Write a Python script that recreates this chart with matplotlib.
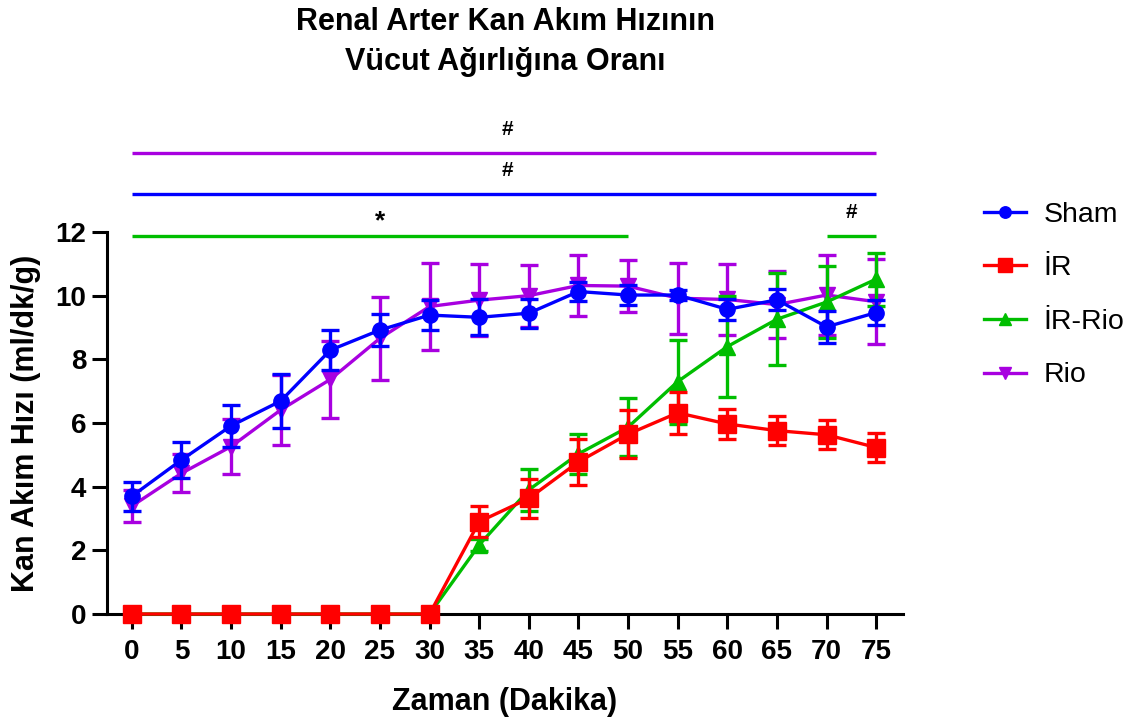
import matplotlib
matplotlib.use("Agg")
import matplotlib.pyplot as plt
from matplotlib.lines import Line2D

plt.rcParams['font.family'] = ['Liberation Sans', 'DejaVu Sans']

# Time points (minutes)
minutes = [0, 5, 10, 15, 20, 25, 30, 35, 40, 45, 50, 55, 60, 65, 70, 75]

# Mean renal artery flow per body weight (ml/dk/g) and SEM
sham_mean = [3.70, 4.84, 5.91, 6.69, 8.29, 8.92, 9.39, 9.32, 9.45, 10.13, 10.02, 10.02, 9.57, 9.87, 9.02, 9.47]
sham_err = [0.46, 0.57, 0.65, 0.84, 0.63, 0.50, 0.47, 0.56, 0.45, 0.30, 0.30, 0.15, 0.33, 0.33, 0.50, 0.38]

ir_mean = [0, 0, 0, 0, 0, 0, 0, 2.90, 3.63, 4.78, 5.65, 6.32, 5.97, 5.76, 5.63, 5.23]
ir_err = [0, 0, 0, 0, 0, 0, 0, 0.48, 0.60, 0.72, 0.76, 0.66, 0.46, 0.46, 0.45, 0.45]

irrio_mean = [0, 0, 0, 0, 0, 0, 0, 2.17, 3.90, 5.03, 5.87, 7.30, 8.40, 9.26, 9.80, 10.52]
irrio_err = [0, 0, 0, 0, 0, 0, 0, 0.20, 0.66, 0.63, 0.92, 1.32, 1.58, 1.45, 1.12, 0.83]

rio_mean = [3.39, 4.42, 5.26, 6.41, 7.37, 8.66, 9.66, 9.86, 10.00, 10.32, 10.30, 9.92, 9.88, 9.72, 10.02, 9.81]
rio_err = [0.50, 0.60, 0.87, 1.10, 1.20, 1.30, 1.38, 1.12, 0.97, 0.97, 0.82, 1.12, 1.13, 1.05, 1.25, 1.33]

x_ticks = [0, 5, 10, 15, 20, 25, 30, 35, 40, 45, 50, 55, 60, 65, 70, 75]
y_ticks = [0, 2, 4, 6, 8, 10, 12]

BLUE = '#0000FF'
RED = '#FF0000'
GREEN = '#00BE00'
PURPLE = '#A800E0'

fig = plt.figure(figsize=(11.47, 7.22), dpi=100)
ax = fig.add_axes([107 / 1147, 1 - 614 / 722, (903 - 107) / 1147, (614 - 232) / 722])

series = [
    # label, mean, err, color, marker, size, zorder
    ('Rio', rio_mean, rio_err, PURPLE, 'v', 12, 3),
    ('İR-Rio', irrio_mean, irrio_err, GREEN, '^', 12, 4),
    ('İR', ir_mean, ir_err, RED, 's', 13, 5),
    ('Sham', sham_mean, sham_err, BLUE, 'o', 11, 6),
]

handles = {}
for label, m, e, c, mk, ms, z in series:
    ax.errorbar(minutes, m, yerr=e, color=c, ecolor=c, marker=mk, markersize=ms,
                linewidth=2.4, elinewidth=2.4, capsize=6.5, capthick=2.4,
                markeredgecolor=c, markerfacecolor=c, zorder=z, clip_on=False)
    handles[label] = Line2D([0], [0], color=c, marker=mk, markersize=ms * 0.75,
                            linewidth=2.4, markerfacecolor=c, markeredgecolor=c)

ax.set_xlim(-2.5, 77.7)
ax.set_ylim(0, 12)
ax.set_xticks(x_ticks)
ax.set_yticks(y_ticks)
ax.tick_params(axis='both', direction='out', length=11, width=2.2,
               labelsize=20)
ax.tick_params(axis='x', pad=7)
ax.tick_params(axis='y', pad=4)
for lbl in ax.get_xticklabels() + ax.get_yticklabels():
    lbl.set_fontweight('bold')

for side in ('top', 'right'):
    ax.spines[side].set_visible(False)
for side in ('left', 'bottom'):
    ax.spines[side].set_linewidth(2.2)

ax.set_xlabel('Zaman (Dakika)', fontsize=22, fontweight='bold', labelpad=16)
ax.set_ylabel('Kan Akım Hızı (ml/dk/g)', fontsize=22, fontweight='bold', labelpad=10)

fig.text(505 / 1147, 1 - 42 / 722, 'Renal Arter Kan Akım Hızının\nVücut Ağırlığına Oranı',
         ha='center', va='center', fontsize=22, fontweight='bold', linespacing=1.4)

# Significance bars above the plot area
sig_bars = [
    # (x start, x end, level, marker text, text x, colour)
    (0, 75, 14.48, '#', 37.8, PURPLE),
    (0, 75, 13.19, '#', 37.8, BLUE),
    (0, 50, 11.88, '*', 25.0, GREEN),
    (70, 75, 11.88, '#', 72.5, GREEN),
]
for x0, x1, lvl, txt, tx, c in sig_bars:
    ax.plot([x0, x1], [lvl, lvl], color=c, linewidth=2.4, clip_on=False,
            solid_capstyle='butt', zorder=2)
    if txt == '*':
        ax.text(tx, lvl + 0.45, txt, ha='center', va='center', fontsize=19,
                fontweight='bold', clip_on=False)
    else:
        ax.text(tx, lvl + 0.74, txt, ha='center', va='center', fontsize=15,
                fontweight='bold', clip_on=False)

order = ['Sham', 'İR', 'İR-Rio', 'Rio']
fig.legend([handles[k] for k in order], order, loc='upper left',
           bbox_to_anchor=(958 / 1147, 1 - 176 / 722), frameon=False,
           fontsize=20.5, handlelength=1.5, labelspacing=0.97, handletextpad=0.6)

fig.savefig('out.png', dpi=100)
